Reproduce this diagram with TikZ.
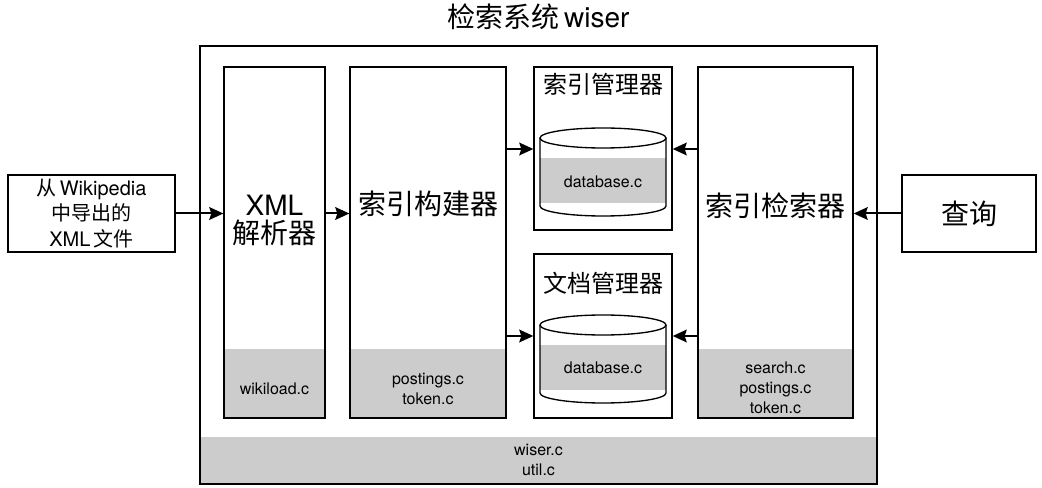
\documentclass[tikz,border=0pt]{standalone}
\usepackage{fontspec}
\setmainfont{TeX Gyre Heros}
\newfontfamily\cjk{Noto Sans CJK SC}
\usetikzlibrary{fit,arrows.meta}

\begin{document}
\begin{tikzpicture}[x=0.75pt, y=-0.75pt,
    box/.style={draw, line width=1pt, inner sep=0pt},
    flow/.style={-{Stealth[length=10.5pt,width=9.5pt,inset=1.5pt]}, line width=1.5pt},
    codefill/.style={fill=black!20},
    biglabel/.style={font=\fontsize{21}{21}\selectfont, align=center},
    midlabel/.style={font=\fontsize{18}{22}\selectfont\cjk},
    codelabel/.style={font=\fontsize{12}{15}\selectfont, align=center}]

      \useasboundingbox (0,0) rectangle (1042,488);

      % gray parts
      \fill[codefill] (200,437) rectangle (877,484);
      \fill[codefill] (224,349) rectangle (325,418);
      \fill[codefill] (350,349) rectangle (506,418);
      \fill[codefill] (698,349) rectangle (853,418);

      % databases
      \foreach \top in {67,254}{
        \fill[codefill, shift={(0,\top)}] (540,91) rectangle (666,136);
        \draw[line width=1pt, shift={(0,\top)}] (540,71) -- (540,139)
          arc[start angle=180, end angle=0, x radius=63, y radius=10] -- (666,71);
        \draw[line width=1pt, shift={(0,\top)}] (603,71) ellipse [x radius=63, y radius=10];
      }

      \node[box, fit={(200,46) (877,484)}] (wiser) {};
      \node[box, fit={(8,175) (175,252)}] (input) {};
      \node[box, fit={(224,67) (325,418)}] (xml) {};
      \node[box, fit={(350,67) (506,418)}] (builder) {};
      \node[box, fit={(534,67) (672,230)}] (idxmgr) {};
      \node[box, fit={(534,254) (672,418)}] (docmgr) {};
      \node[box, fit={(698,67) (853,418)}] (searcher) {};
      \node[box, fit={(902,175) (1036,252)}] (query) {};

      \coordinate (idxdb) at (603,149);
      \coordinate (docdb) at (603,336);

      \node[biglabel] (title) at (538.5,17) {{\cjk 检索系统}\,wiser};
      \node[font=\fontsize{15}{19}\selectfont, align=center] (inputtext) at (input)
        {{\cjk 从}\,Wikipedia\\{\cjk 中导出的}\\XML\,{\cjk 文件}};
      \node[biglabel] (xmltext) at (274.5,220) {XML\\{\cjk 解析器}};
      \node[biglabel] (buildertext) at (428,204) {\cjk 索引构建器};
      \node[midlabel] (idxtext) at (603,84) {索引管理器};
      \node[midlabel] (doctext) at (603,283) {文档管理器};
      \node[biglabel] (searchertext) at (775.5,206) {\cjk 索引检索器};
      \node[biglabel] (querytext) at (query) {\cjk 查询};

      \node[codelabel] (wikiload) at (274.5,389) {wikiload.c};
      \node[codelabel] (buildercode) at (428,389) {postings.c\\token.c};
      \node[codelabel] (idxcode) at (603,182) {database.c};
      \node[codelabel] (doccode) at (603,368) {database.c};
      \node[codelabel] (searchercode) at (775.5,388) {search.c\\postings.c\\token.c};
      \node[codelabel] (wisercode) at (538.5,460) {wiser.c\\util.c};

      \draw[flow] (input) -- (input -| xml.west);
      \draw[flow] (xml.east |- input) -- (builder.west |- input);
      \draw[flow] (builder.east |- idxdb) -- (idxmgr.west |- idxdb);
      \draw[flow] (builder.east |- docdb) -- (docmgr.west |- docdb);
      \draw[flow] (searcher.west |- idxdb) -- (idxmgr.east |- idxdb);
      \draw[flow] (searcher.west |- docdb) -- (docmgr.east |- docdb);
      \draw[flow] (query) -- (query -| searcher.east);

    \end{tikzpicture}
\end{document}
